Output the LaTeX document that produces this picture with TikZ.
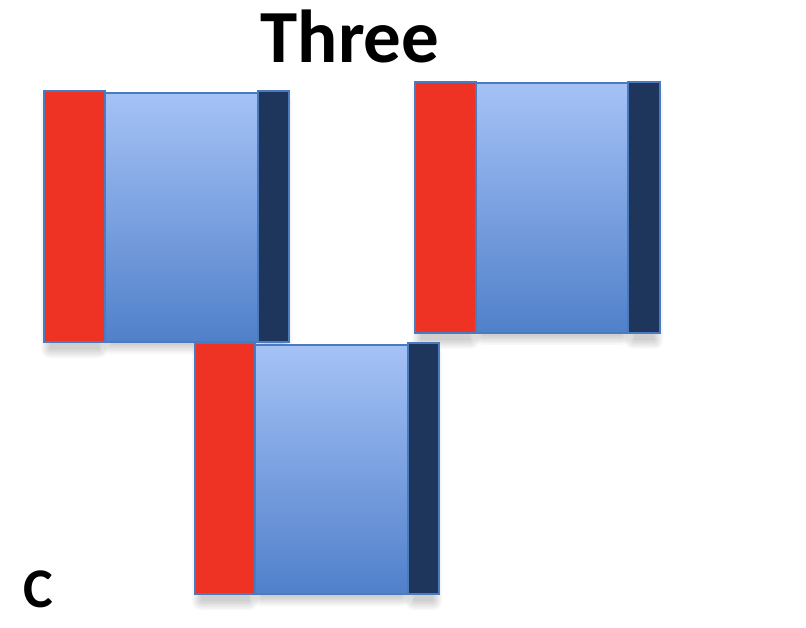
\documentclass[tikz,border=0pt]{standalone}
\usepackage{fontspec}
\setmainfont{Carlito}
\definecolor{redfill}{RGB}{238,50,36}
\definecolor{navyfill}{RGB}{31,54,92}
\definecolor{edgeblue}{RGB}{76,122,190}
\definecolor{toplight}{RGB}{165,194,246}
\definecolor{botdark}{RGB}{80,128,202}
\tikzset{
  redbar/.style={fill=redfill,draw=edgeblue,line width=2pt},
  navybar/.style={fill=navyfill,draw=edgeblue,line width=2pt},
  midpart/.style={top color=toplight,bottom color=botdark,draw=edgeblue,line width=2pt},
  shadelayer/.style={fill=black,opacity=0.028},
}
% soft shadow under a rectangle: left, top, right, bottom
\newcommand{\softshade}[4]{%
  \foreach \r in {0,1.5,...,9}{%
    \fill[shadelayer,rounded corners=\r pt] ({#1+6-\r},{#2+10-\r}) rectangle ({#3-6+\r},{#4+7+\r});
  }%
}
\begin{document}
\begin{tikzpicture}[x=1pt,y=-1pt]
\useasboundingbox (0,0) rectangle (806,628);
\fill[white] (0,0) rectangle (806,628);
% shadows of blocks 1 and 2
\softshade{44}{91}{105}{342}
\softshade{258}{91}{289}{342}
\softshade{105}{93}{258}{338}
\softshade{415}{82}{476}{333}
\softshade{628}{82}{660}{333}
\softshade{476}{83}{628}{329}
% block 1
\path[midpart] (105,93) rectangle (258,342);
\path[redbar] (44,91) rectangle (105,342);
\path[navybar] (258,91) rectangle (289,342);
% block 2
\path[midpart] (476,83) rectangle (628,333);
\path[redbar] (415,82) rectangle (476,333);
\path[navybar] (628,82) rectangle (660,333);
% block 3
\softshade{195}{343}{255}{594}
\softshade{408}{343}{439}{594}
\softshade{255}{345}{408}{590}
\path[midpart] (255,345) rectangle (408,594);
\path[redbar] (195,343) rectangle (255,594);
\path[navybar] (408,343) rectangle (439,594);
% texts
\node[font=\fontsize{75}{75}\selectfont\bfseries,anchor=base] (title) at (350,63) {Three};
\node[font=\fontsize{56}{56}\selectfont\bfseries,anchor=base west,inner sep=0pt] (clabel) at (23,607) {C};
\end{tikzpicture}
\end{document}
